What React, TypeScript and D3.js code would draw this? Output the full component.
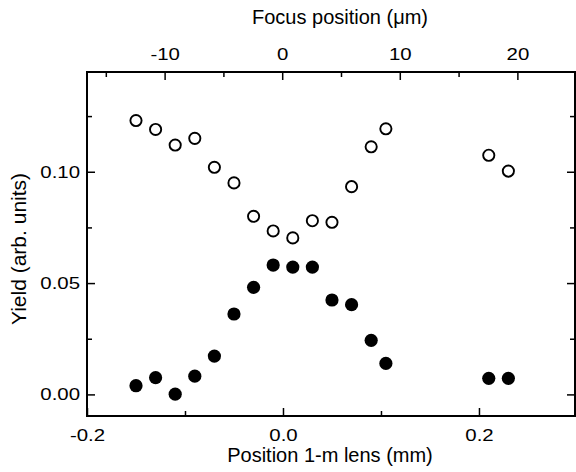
import React, { useEffect, useRef } from 'react';
import * as d3 from 'd3';

// positions of the 1-m lens (mm)
const positions = [-0.15, -0.13, -0.11, -0.09, -0.07, -0.05, -0.03, -0.01, 0.01, 0.03, 0.05, 0.07, 0.09, 0.105, 0.21, 0.23];
// open circles
const yieldOpen = [0.123, 0.119, 0.112, 0.115, 0.102, 0.095, 0.080, 0.0734, 0.0703, 0.078, 0.0773, 0.0933, 0.1112, 0.1193, 0.1074, 0.1003];
// filled circles
const yieldFilled = [0.0039, 0.0075, 0.0001, 0.0082, 0.0172, 0.0361, 0.0481, 0.0581, 0.0572, 0.0572, 0.0424, 0.0403, 0.0243, 0.0139, 0.0072, 0.0072];

const bottomMajor = [-0.2, 0.0, 0.2];
const bottomMinor = [-0.1, 0.1];
const topMajor = [-10, 0, 10, 20];
const topMinor = [-15, -5, 5, 15];
const yMajor = [0, 0.05, 0.1];
const yMinor = [0.025, 0.075, 0.125];

const FONT = '"Liberation Sans", Arial, sans-serif';
const TICK_FS = 17;
const TITLE_FS = 20;
const STRETCH = 1.2; // tick numbers in the scan are wider than Arial

const hyphen = (f) => (d) => f(d).replace('\u2212', '-');

function App() {
  const svgRef = useRef<SVGSVGElement>(null);

  useEffect(() => {
    const svg = d3.select(svgRef.current);
    svg.selectAll('*').remove();

    const left = 87, right = 575, top = 72, bottom = 416;

    const x = d3.scaleLinear().domain([-0.2, 0.298]).range([left, right]);
    const xTop = d3.scaleLinear().domain([-16.6, 24.9]).range([left, right]);
    const y = d3.scaleLinear().domain([-0.0097, 0.1448]).range([bottom, top]);

    const styleAxis = (g) => {
      g.select('.domain').remove();
      g.selectAll('line').attr('stroke', '#000').attr('stroke-width', 1.5);
      g.selectAll('text').attr('font-family', FONT).attr('font-size', TICK_FS).attr('fill', '#000').classed('tick-label', true);
    };

    // bottom axis
    svg.append('g').attr('transform', `translate(0,${bottom})`)
      .call(d3.axisBottom(x).tickValues(bottomMajor).tickSizeInner(-8).tickSizeOuter(0).tickPadding(13).tickFormat(hyphen(d3.format('.1f'))))
      .call(styleAxis);
    svg.append('g').attr('transform', `translate(0,${bottom})`)
      .call(d3.axisBottom(x).tickValues(bottomMinor).tickSizeInner(-5).tickSizeOuter(0).tickFormat(() => ''))
      .call(styleAxis);

    // top axis
    svg.append('g').attr('transform', `translate(0,${top})`)
      .call(d3.axisTop(xTop).tickValues(topMajor).tickSizeInner(-8).tickSizeOuter(0).tickPadding(12).tickFormat(hyphen(d3.format('d'))))
      .call(styleAxis);
    svg.append('g').attr('transform', `translate(0,${top})`)
      .call(d3.axisTop(xTop).tickValues(topMinor).tickSizeInner(-5).tickSizeOuter(0).tickFormat(() => ''))
      .call(styleAxis);

    // left axis
    svg.append('g').attr('transform', `translate(${left},0)`)
      .call(d3.axisLeft(y).tickValues(yMajor).tickSizeInner(-8).tickSizeOuter(0).tickPadding(7).tickFormat(d3.format('.2f')))
      .call(styleAxis);
    svg.append('g').attr('transform', `translate(${left},0)`)
      .call(d3.axisLeft(y).tickValues(yMinor).tickSizeInner(-5).tickSizeOuter(0).tickFormat(() => ''))
      .call(styleAxis);

    // right axis (ticks only)
    svg.append('g').attr('transform', `translate(${right},0)`)
      .call(d3.axisRight(y).tickValues(yMajor).tickSizeInner(-8).tickSizeOuter(0).tickFormat(() => ''))
      .call(styleAxis);
    svg.append('g').attr('transform', `translate(${right},0)`)
      .call(d3.axisRight(y).tickValues(yMinor).tickSizeInner(-5).tickSizeOuter(0).tickFormat(() => ''))
      .call(styleAxis);

    // frame
    svg.append('rect')
      .attr('x', left).attr('y', top)
      .attr('width', right - left).attr('height', bottom - top)
      .attr('fill', 'none').attr('stroke', '#000').attr('stroke-width', 2);

    // open circles
    svg.append('g').selectAll('circle')
      .data(positions)
      .enter()
      .append('circle')
      .attr('cx', (d) => x(d))
      .attr('cy', (d, i) => y(yieldOpen[i]))
      .attr('r', 5.6)
      .attr('fill', '#fff')
      .attr('stroke', '#000')
      .attr('stroke-width', 1.9);

    // filled circles
    svg.append('g').selectAll('circle')
      .data(positions)
      .enter()
      .append('circle')
      .attr('cx', (d) => x(d))
      .attr('cy', (d, i) => y(yieldFilled[i]))
      .attr('r', 6.6)
      .attr('fill', '#000');

    // widen the tick numbers a little
    svg.selectAll('text.tick-label').each(function () {
      const node = this as SVGTextElement;
      if (!node.textContent) return;
      const w = node.getComputedTextLength();
      d3.select(node).attr('textLength', w * STRETCH).attr('lengthAdjust', 'spacingAndGlyphs');
    });

    // axis titles
    svg.append('text')
      .attr('x', 330).attr('y', 462)
      .attr('text-anchor', 'middle')
      .attr('font-family', FONT).attr('font-size', TITLE_FS)
      .text('Position 1-m lens (mm)');

    svg.append('text')
      .attr('x', 340).attr('y', 24)
      .attr('text-anchor', 'middle')
      .attr('font-family', FONT).attr('font-size', TITLE_FS)
      .text('Focus position (\u03bcm)');

    svg.append('text')
      .attr('transform', `translate(26,249) rotate(-90)`)
      .attr('text-anchor', 'middle')
      .attr('font-family', FONT).attr('font-size', 21)
      .text('Yield (arb. units)');
  }, []);

  return (
    <svg ref={svgRef} width="576" height="472" style={{ position: 'absolute', left: 0, top: 0, background: '#fff' }} />
  );
}

export default App;
